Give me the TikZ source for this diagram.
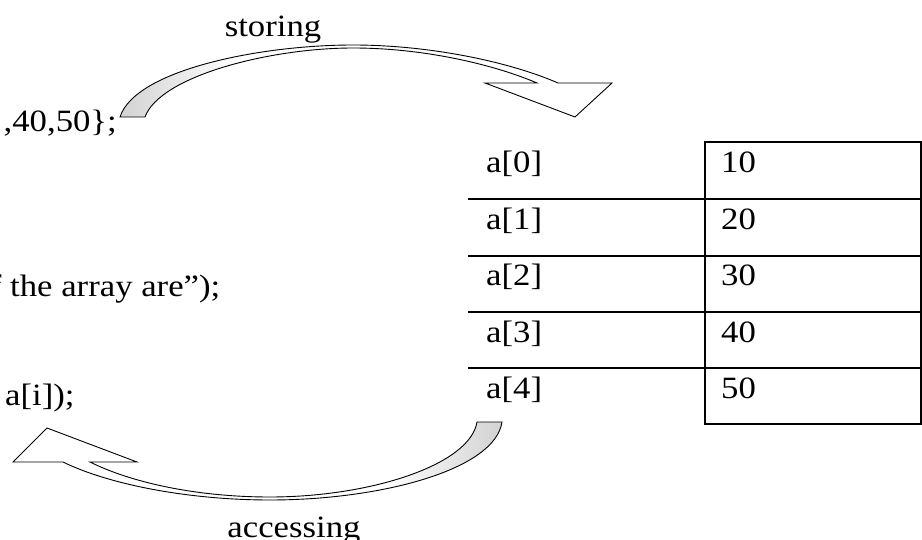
\documentclass[tikz,border=0pt]{standalone}
\usepackage{fontspec}
\setmainfont{Liberation Serif}[FakeStretch=1.12]
\usepackage{tikz}

% grey on the tail side of the block arrows
\pgfdeclarehorizontalshading{tailfade}{100bp}{color(0bp)=(gray!35); color(25bp)=(gray!35); color(37bp)=(white); color(100bp)=(white)}

\begin{document}
\begin{tikzpicture}[x=1pt, y=-1pt, line join=miter]

% Styles
\tikzset{
  txt/.style={inner sep=0pt, font=\fontsize{31}{37}\selectfont},
  grid/.style={line width=1.3pt},
  band/.style={draw, line width=0.9pt, shading=tailfade}
}

\useasboundingbox (0,0) rectangle (922,540);
\clip (0,0) rectangle (922,540);

% Code lines (cut off at the left edge)
\node[txt, anchor=base east] (init) at (117,132) {,40,50\};};
\node[txt, anchor=base east] (msg) at (220.5,297) {of the array are'');};
\node[txt, anchor=base west] (out) at (5,405) {a[i]);};

% Array cells
\foreach \v [count=\i from 0] in {10,20,30,40,50} {
  \node[txt, anchor=base west] (idx\i) at (486,173+56.5*\i) {a[\i]};
  \node[txt, anchor=base west] (val\i) at (721,173+56.5*\i) {\v};
}

% Table lines
\draw[grid] (705,142) rectangle (921,424);
\foreach \y in {199,256,312,368}
  \draw[grid] (468,\y) -- (921,\y);

% Storing arrow
\shadedraw[band] (120,117) -- (145,117)
  .. controls (160,76) and (270,48) .. (353,48)
  .. controls (425,48) and (495,65) .. (537,83)
  -- (485,83) -- (575,117) -- (612,83) -- (558,83)
  .. controls (510,62) and (430,45) .. (353,45)
  .. controls (260,45) and (135,70) .. (120,117) -- cycle;
\node[txt, anchor=base] (store) at (273,37) {storing};

% Accessing arrow
\shadedraw[band, shading angle=180] (477,422) -- (502,422)
  .. controls (495,470) and (380,500) .. (270,500)
  .. controls (190,500) and (110,485) .. (63,462)
  -- (13,462) -- (47,428) -- (137,462) -- (90,462)
  .. controls (130,482) and (195,497) .. (270,497)
  .. controls (370,497) and (470,465) .. (477,422) -- cycle;
\node[txt, anchor=base] (access) at (294,537) {accessing};

\end{tikzpicture}
\end{document}
